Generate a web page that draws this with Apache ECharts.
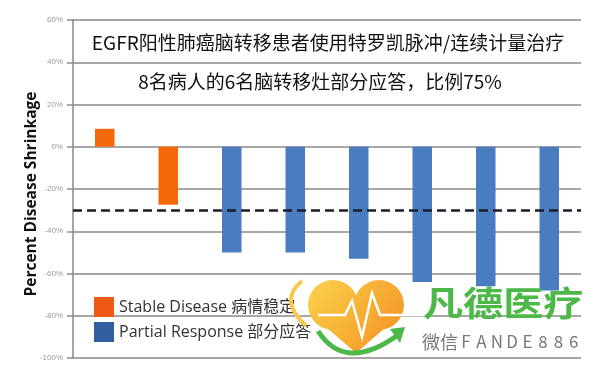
<!DOCTYPE html>
<html>
<head>
<meta charset="utf-8">
<script src="https://cdn.jsdelivr.net/npm/echarts@6/dist/echarts.min.js"></script>
<style>
html,body{margin:0;padding:0;background:#fff;}
#chart{width:600px;height:371px;}
</style>
</head>
<body>
<div id="chart"></div>
<script>
// ---- data ----
var patients = ['1', '2', '3', '4', '5', '6', '7', '8'];
var stableDisease = [8.5, -27.5, null, null, null, null, null, null];
var partialResponse = [null, null, -50, -50, -53, -64, -66, -68];
var threshold = -30;
var yTicks = { min: -100, max: 60, step: 20 };
var titleLine1 = 'EGFR阳性肺癌脑转移患者使用特罗凯脉冲/连续计量治疗';
var titleLine2 = '8名病人的6名脑转移灶部分应答，比例75%';
var seriesNames = ['Stable Disease 病情稳定', 'Partial Response 部分应答'];
var yAxisName = 'Percent Disease Shrinkage';
var brandName = '凡德医疗';
var brandSubCjk = '微信';
var brandSubLatin = 'FANDE886';

var chart = echarts.init(document.getElementById('chart'), null, { renderer: 'canvas' });
var cjk = '"Noto Sans CJK SC", "Open Sans", sans-serif';
var gridColor = '#8a8a8a';
function heartFill() {
  return new echarts.graphic.LinearGradient(308, 280, 404, 350, [
    { offset: 0, color: '#fbd24c' }, { offset: 1, color: '#f39020' }
  ], true);
}

var graphics = [
  { type: 'text', x: 328, y: 43, z: 10,
    style: { text: titleLine1, font: '19px ' + cjk, fill: '#111', align: 'center', verticalAlign: 'middle' } },
  { type: 'text', x: 320, y: 82, z: 10,
    style: { text: titleLine2, font: '19px ' + cjk, fill: '#111', align: 'center', verticalAlign: 'middle' } },
  // watermark logo
  { type: 'bezierCurve', z: 20,
    shape: { x1: 302, y1: 281, x2: 306, y2: 326, cpx1: 278, cpy1: 300 },
    style: { fill: 'none', stroke: '#f7c84a', lineWidth: 4 } },
  { type: 'circle', z: 21, shape: { cx: 333, cy: 305, r: 25 }, style: { fill: heartFill() } },
  { type: 'circle', z: 21, shape: { cx: 379, cy: 305, r: 25 }, style: { fill: heartFill() } },
  { type: 'polygon', z: 21,
    shape: { points: [[309.5, 313], [356, 353], [402.5, 313], [356, 301]] },
    style: { fill: heartFill() } },
  { type: 'polyline', z: 22,
    shape: { points: [[318, 315], [345, 315], [352, 301], [362, 337], [372, 293], [380, 315], [425, 315]] },
    style: { fill: 'none', stroke: '#ffffff', lineWidth: 2.5 } },
  { type: 'bezierCurve', z: 22,
    shape: { x1: 318, y1: 331, x2: 398, y2: 335, cpx1: 345, cpy1: 373 },
    style: { fill: 'none', stroke: '#4cb848', lineWidth: 5 } },
  { type: 'polygon', z: 22,
    shape: { points: [[390, 329], [405, 327], [400, 343]] },
    style: { fill: '#4cb848' } },
  { type: 'text', x: 423, y: 303, z: 23, scaleX: 1.18,
    style: { text: brandName, font: 'bold 34px ' + cjk, fill: '#4cb848', align: 'left', verticalAlign: 'middle' } },
  { type: 'text', x: 422, y: 342, z: 23,
    style: { text: brandSubCjk, font: '18px ' + cjk, fill: '#777', align: 'left', verticalAlign: 'middle' } }
];
// spaced latin letters of the watermark
for (var i = 0; i < brandSubLatin.length; i++) {
  graphics.push({ type: 'text', x: 466 + i * 15.4, y: 342, z: 23,
    style: { text: brandSubLatin.charAt(i), font: '17px ' + cjk, fill: '#777', align: 'center', verticalAlign: 'middle' } });
}

var option = {
  animation: false,
  backgroundColor: '#ffffff',
  grid: { left: 73, right: 19, top: 20, bottom: 13, containLabel: false },
  legend: {
    orient: 'vertical',
    left: 89, top: 292,
    itemWidth: 20, itemHeight: 20, itemGap: 5,
    icon: 'rect',
    textStyle: { fontSize: 16, color: '#333', fontFamily: '"Open Sans", "Noto Sans CJK SC", sans-serif' },
    data: [
      { name: seriesNames[0], itemStyle: { color: '#ee5a14' } },
      { name: seriesNames[1], itemStyle: { color: '#2f5f9f' } }
    ]
  },
  xAxis: {
    type: 'category',
    data: patients,
    axisLine: { show: false },
    axisTick: { show: false },
    axisLabel: { show: false },
    splitLine: { show: false }
  },
  yAxis: {
    type: 'value',
    min: yTicks.min, max: yTicks.max, interval: yTicks.step,
    name: yAxisName,
    nameLocation: 'middle',
    nameGap: 33,
    nameMoveOverlap: false,
    nameTextStyle: { fontSize: 15.5, fontWeight: 'bold', color: '#111', fontFamily: '"Open Sans", sans-serif', padding: [0, 10, 0, 0] },
    axisLine: { show: true, lineStyle: { color: gridColor, width: 1.5 } },
    axisTick: { show: true, length: 6, lineStyle: { color: gridColor, width: 1.5 } },
    axisLabel: { formatter: '{value}%', fontSize: 8, color: '#999', margin: 10, fontFamily: 'Arial, "Liberation Sans", sans-serif' },
    splitLine: { show: true, lineStyle: { color: gridColor, width: 1.5 } }
  },
  series: [
    {
      name: seriesNames[0],
      type: 'bar',
      data: stableDisease,
      barWidth: 19.5,
      barGap: '-100%',
      itemStyle: { color: '#f4680a' },
      markLine: {
        silent: true,
        symbol: 'none',
        label: { show: false },
        lineStyle: { color: '#1c1c2c', width: 2.5, type: [9, 5] },
        data: [{ yAxis: threshold }]
      },
      z: 3
    },
    {
      name: seriesNames[1],
      type: 'bar',
      data: partialResponse,
      barWidth: 19.5,
      barGap: '-100%',
      itemStyle: { color: '#4a7cc0' },
      z: 3
    }
  ],
  graphic: graphics
};
chart.setOption(option);
</script>
</body>
</html>
